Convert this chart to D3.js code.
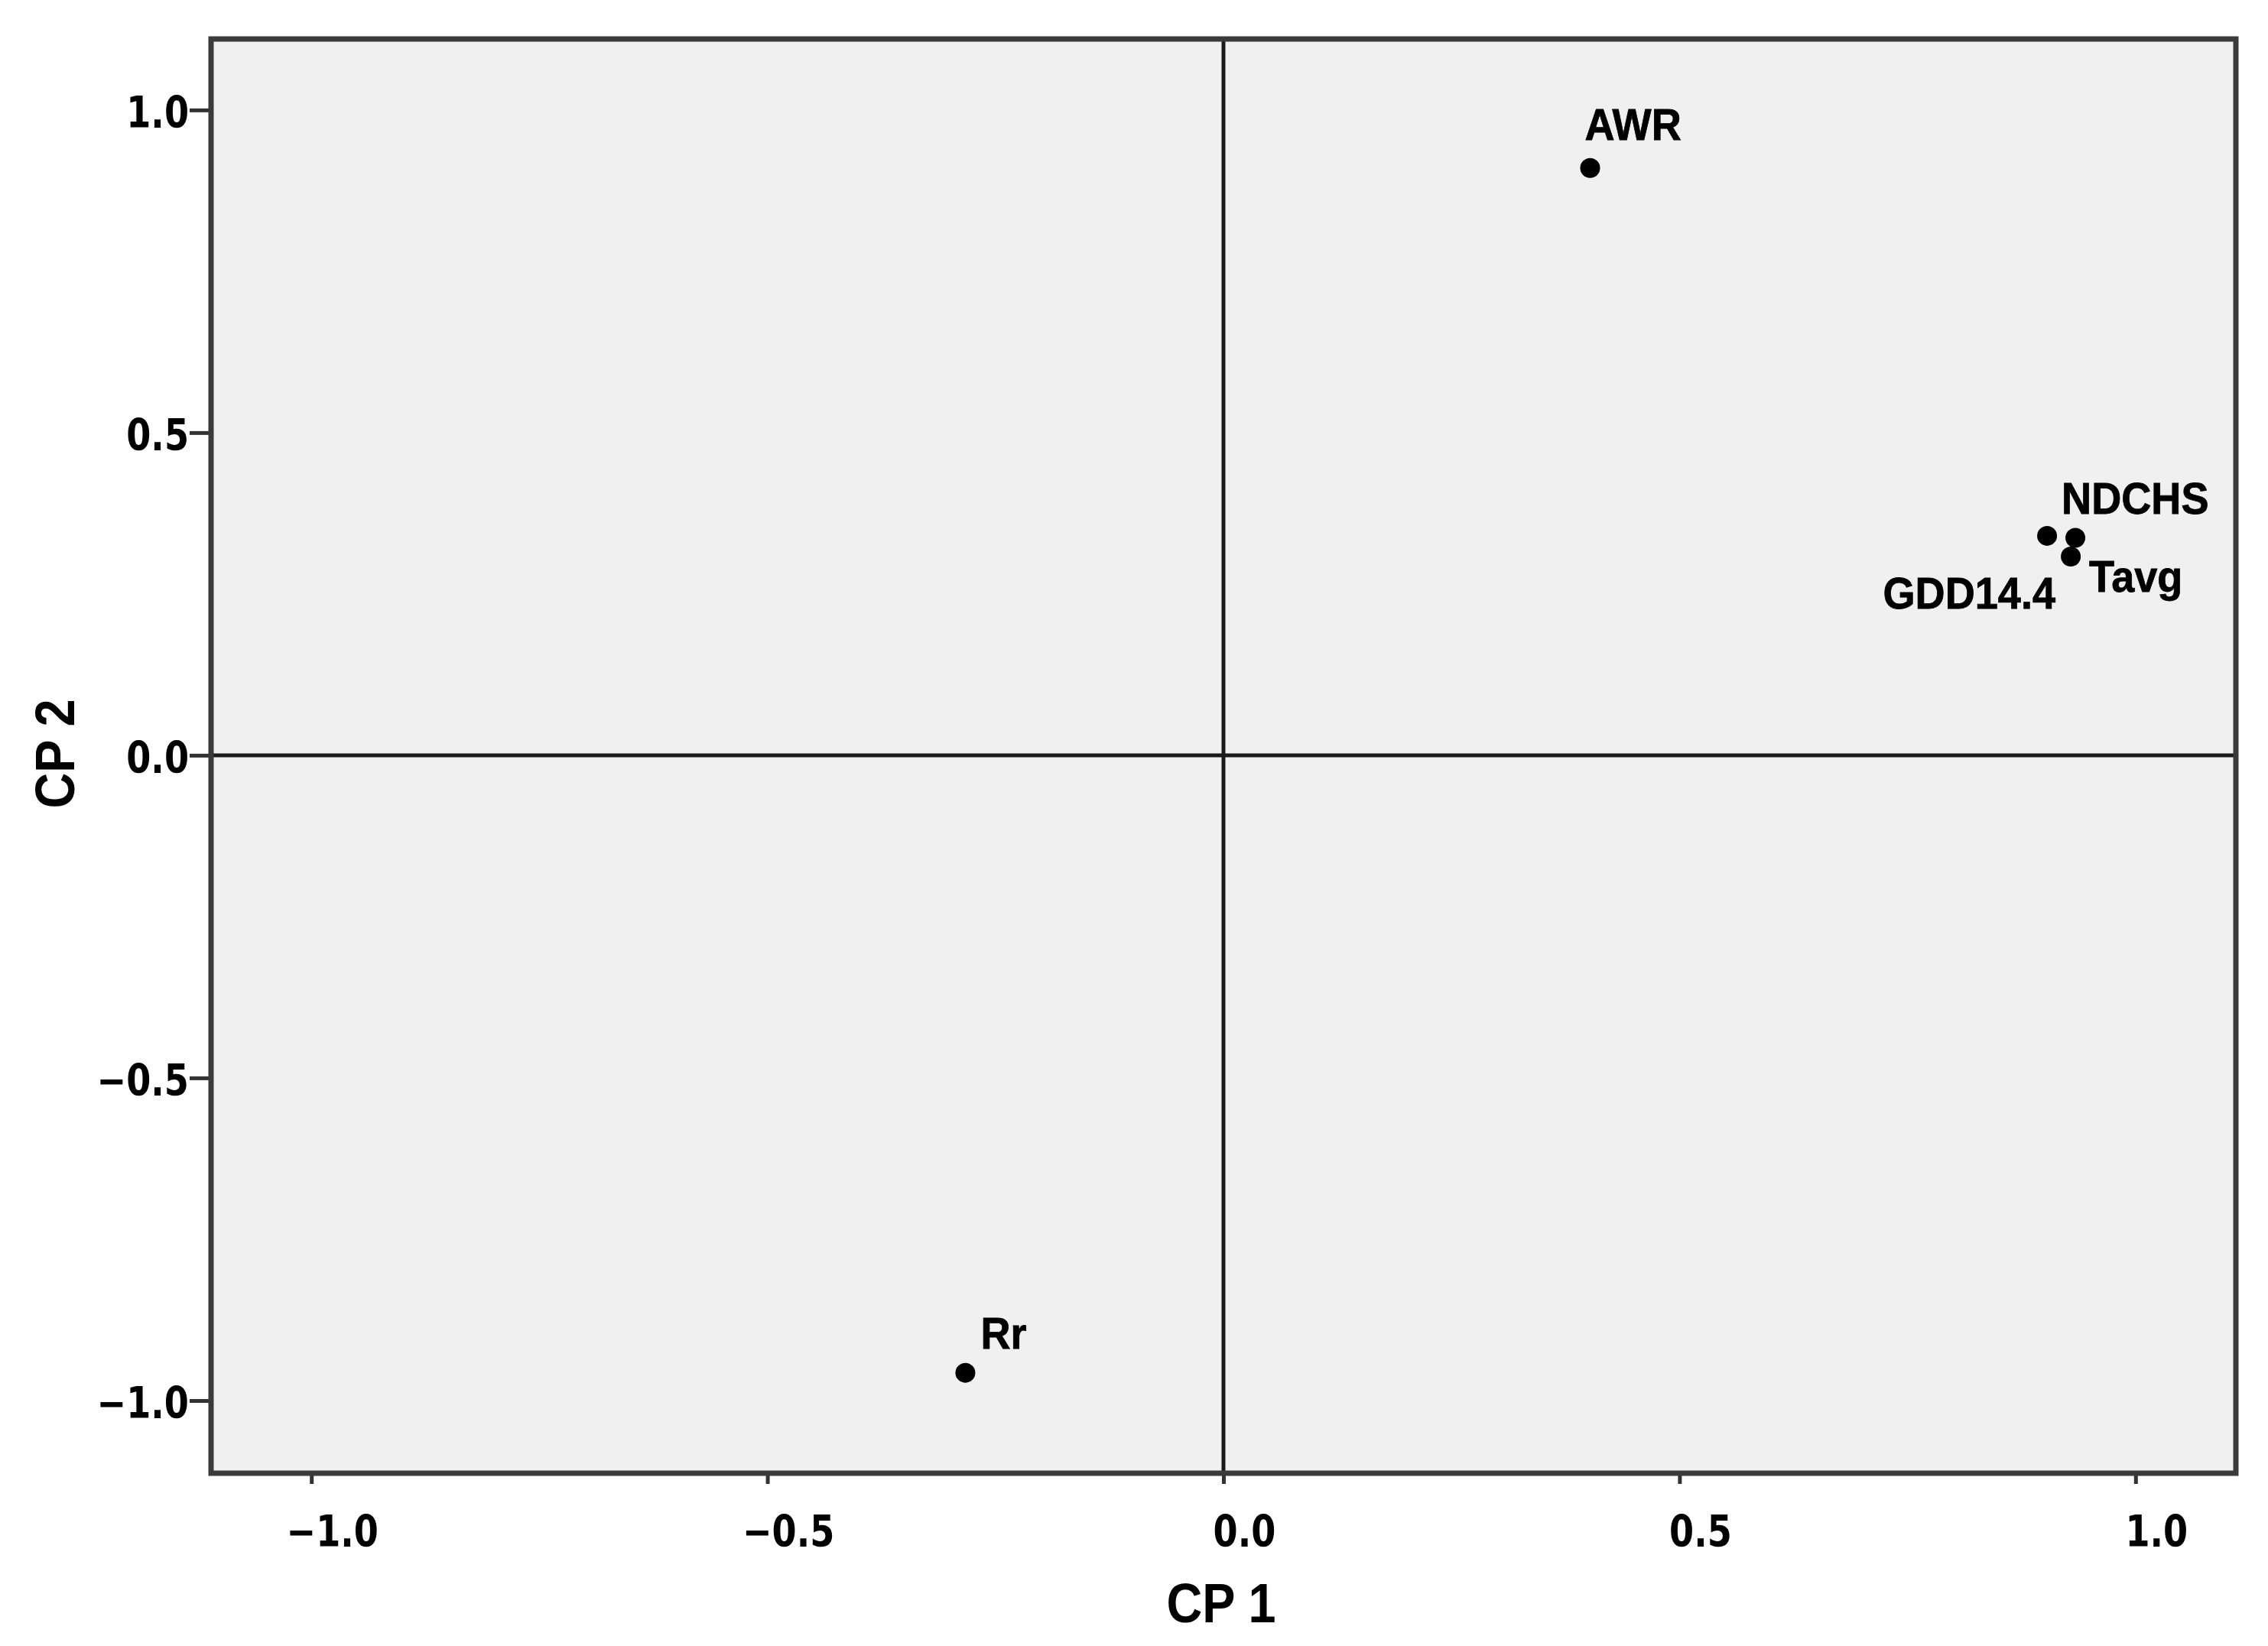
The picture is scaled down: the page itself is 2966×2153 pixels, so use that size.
<!DOCTYPE html>
<html><head><meta charset="utf-8">
<script src="https://cdn.jsdelivr.net/npm/d3@7"></script>
<style>body{margin:0;background:#fff;} svg{display:block;}</style>
</head><body><svg id="chart" width="2966" height="2153"></svg>
<script>
// ---- data ----
const variables = ["AWR", "NDCHS", "GDD14.4", "Tavg", "Rr"];
const cp1 = [0.402, 0.934, 0.903, 0.929, -0.283];
const cp2 = [0.910, 0.337, 0.340, 0.308, -0.957];
const xTicks = [-1.0, -0.5, 0.0, 0.5, 1.0];
const yTicks = [-1.0, -0.5, 0.0, 0.5, 1.0];
const xTitle = "CP 1";
const yTitle = "CP 2";

// ---- label placement (layout, px) ----
const labelPlace = {
  "AWR":     {dx: -7,  dy: -37, anchor: "start"},
  "NDCHS":   {dx: -18, dy: -31, anchor: "start"},
  "GDD14.4": {dx: 11,  dy: 95,  anchor: "end"},
  "Tavg":    {dx: 24,  dy: 46,  anchor: "start"},
  "Rr":      {dx: 20,  dy: -32, anchor: "start"}
};

const W = 2966, H = 2153;
const m = {left: 276, top: 51, right: W - 2924, bottom: H - 1927};
const iw = W - m.left - m.right, ih = H - m.top - m.bottom;

const svg = d3.select("#chart");
const g = svg.append("g").attr("transform", `translate(${m.left},${m.top})`);

const x = d3.scaleLinear().domain([-1.11, 1.11]).range([0, iw]);
const y = d3.scaleLinear().domain([-1.1126, 1.11]).range([ih, 0]);

// background
g.append("rect").attr("width", iw).attr("height", ih).attr("fill", "#f0f0f0");

// reference lines
g.append("line").attr("x1", x(0)).attr("x2", x(0)).attr("y1", 0).attr("y2", ih)
  .attr("stroke", "#1a1a1a").attr("stroke-width", 5);
g.append("line").attr("x1", 0).attr("x2", iw).attr("y1", y(0)).attr("y2", y(0))
  .attr("stroke", "#1a1a1a").attr("stroke-width", 5);

const fmt = d3.format(".1f");
const tickSX = 0.81;

// y axis
const ya = g.append("g").call(d3.axisLeft(y).tickValues(yTicks).tickFormat(fmt).tickSize(28).tickSizeOuter(0));
ya.select(".domain").remove();
ya.selectAll(".tick line").attr("stroke", "#333").attr("stroke-width", 5);
ya.selectAll(".tick text")
  .attr("font-family", "DejaVu Sans").attr("font-weight", "bold").attr("font-size", 57)
  .attr("fill", "#000").attr("text-anchor", "end")
  .attr("transform", `scale(${tickSX},1)`)
  .attr("x", -29 / tickSX).attr("dy", "0.40em");

// x axis
const xa = g.append("g").attr("transform", `translate(0,${ih})`)
  .call(d3.axisBottom(x).tickValues(xTicks).tickFormat(fmt).tickSize(14).tickSizeOuter(0));
xa.select(".domain").remove();
xa.selectAll(".tick line").attr("stroke", "#333").attr("stroke-width", 5);
xa.selectAll(".tick text")
  .attr("font-family", "DejaVu Sans").attr("font-weight", "bold").attr("font-size", 57)
  .attr("fill", "#000").attr("text-anchor", "middle")
  .attr("transform", `scale(${tickSX},1)`)
  .attr("x", 27 / tickSX).attr("y", 96).attr("dy", "0");

// frame
g.append("rect").attr("width", iw).attr("height", ih).attr("fill", "none")
  .attr("stroke", "#3a3a3a").attr("stroke-width", 7);

// points
const pts = variables.map((v, i) => ({name: v, a: cp1[i], b: cp2[i]}));
g.selectAll("circle.pt").data(pts).join("circle")
  .attr("class", "pt").attr("cx", d => x(d.a)).attr("cy", d => y(d.b))
  .attr("r", 13).attr("fill", "#000");

const labelSX = 0.95;
const lg = g.selectAll("g.lbl").data(pts).join("g").attr("class", "lbl")
  .attr("transform", d => `translate(${x(d.a)},${y(d.b)})`);
lg.append("text")
  .attr("transform", `scale(${labelSX},1)`)
  .attr("x", d => labelPlace[d.name].dx / labelSX)
  .attr("y", d => labelPlace[d.name].dy)
  .attr("text-anchor", d => labelPlace[d.name].anchor)
  .attr("font-family", "Liberation Sans, Arial, sans-serif").attr("font-weight", "bold")
  .attr("font-size", 57).attr("fill", "#000")
  .attr("stroke", "#000").attr("stroke-width", 0.8)
  .text(d => d.name);

// axis titles
const titleSX = 0.9;
svg.append("g").attr("transform", `translate(1597,2122)`)
  .append("text").attr("transform", `scale(${titleSX},1)`)
  .attr("text-anchor", "middle")
  .attr("font-family", "Liberation Sans, Arial, sans-serif").attr("font-weight", "bold")
  .attr("font-size", 72).attr("fill", "#000").text(xTitle);
svg.append("g").attr("transform", `translate(97,986) rotate(-90)`)
  .append("text").attr("transform", `scale(${titleSX},1)`)
  .attr("text-anchor", "middle")
  .attr("font-family", "Liberation Sans, Arial, sans-serif").attr("font-weight", "bold")
  .attr("font-size", 72).attr("fill", "#000").text(yTitle);
</script>
</body></html>
